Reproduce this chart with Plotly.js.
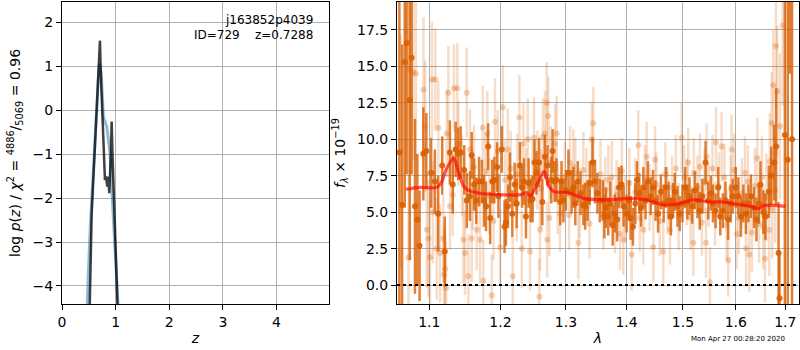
<!DOCTYPE html>
<html><head><meta charset="utf-8">
<script src="https://cdn.plot.ly/plotly-3.0.1.min.js"></script>
<style>html,body{margin:0;padding:0;background:#fff}#chart{width:800px;height:350px}</style>
</head><body><div id="chart"></div>
<script>
// ---- left panel: log p(z)
const pzZ   = [0.515, 0.553, 0.646, 0.708, 0.722, 0.801, 0.820, 0.845, 0.863, 0.882, 0.913, 0.926, 0.940, 0.969, 1.019, 1.031, 1.040];
const pzLog = [-4.6, -2.36, -0.01, 1.58, 0.9, -1.59, -1.51, -1.74, -1.51, -1.89, -0.94, -0.26, -0.94, -2.04, -3.98, -4.0, -4.6];
const priorZ   = [0.470, 0.478, 0.490, 0.530, 0.586, 0.636, 0.680, 0.700, 0.730, 0.772, 0.835, 0.897, 0.960, 1.020, 1.045];
const priorLog = [-4.45, -3.8, -3.75, -2.6, -1.21, -0.23, 0.76, 1.06, 0.85, -0.15, -0.38, -0.98, -2.5, -3.86, -4.45];
const leftXTicks = [0, 1, 2, 3, 4];
const leftYTicks = [-4, -3, -2, -1, 0, 1, 2];

// ---- right panel: spectrum (dark = primary, light = other)
const darkLam = [
 1.0605,1.0640,1.0675,1.0700,1.0740,1.0765,1.0809,1.0840,1.0870,1.0920,
 1.0960,1.1025,1.1075,1.1120,1.1175,1.1210,1.1280,1.1320,1.1360,1.1395,
 1.1430,1.1480,1.1515,1.1560,1.1585,1.1620,1.1650,1.1690,1.1730,1.1760,
 1.1790,1.1820,1.1850,1.1880,1.1910,1.1950,1.1970,1.2020,1.2060,1.2080,
 1.2110,1.2140,1.2175,1.2210,1.2240,1.2290,1.2320,1.2350,1.2380,1.2420,
 1.2450,1.2480,1.2510,1.2540,1.2580,1.2630,1.2670,1.2710,1.2770,1.2790,
 1.2820,1.2850,1.2910,1.2930,1.2960,1.3000,1.3040,1.3090,1.3120,1.3150,
 1.3190,1.3235,1.3280,1.3310,1.3350,1.3385,1.3430,1.3470,1.3510,1.3550,
 1.3600,1.3625,1.3650,1.3690,1.3725,1.3765,1.3800,1.3840,1.3870,1.3915,
 1.3950,1.4000,1.4040,1.4070,1.4110,1.4150,1.4180,1.4220,1.4250,1.4290,
 1.4330,1.4370,1.4420,1.4460,1.4505,1.4550,1.4600,1.4650,1.4690,1.4740,
 1.4780,1.4820,1.4850,1.4900,1.4940,1.4990,1.5040,1.5080,1.5120,1.5170,
 1.5220,1.5270,1.5310,1.5360,1.5420,1.5470,1.5520,1.5560,1.5610,1.5660,
 1.5700,1.5750,1.5800,1.5850,1.5900,1.5940,1.6000,1.6050,1.6100,1.6150,
 1.6200,1.6250,1.6300,1.6360,1.6410,1.6460,1.6490,1.6550,1.6590,1.6660,
 1.6710,1.6770,1.6810,1.6860,1.6880,1.6990,1.7050,1.7096,1.7140];
const darkFlux = [
 9.1,5.5,15.3,16.6,12.7,15.6,5.4,4.5,2.7,9.0,
 9.2,7.7,7.1,4.9,8.2,2.3,9.1,6.9,9.3,9.0,
 9.1,7.9,5.8,6.1,8.9,6.9,5.8,7.1,7.1,5.8,
 5.4,9.5,4.6,7.1,7.2,8.1,6.1,9.3,4.0,4.3,
 5.4,7.4,4.9,6.9,5.6,8.2,6.7,7.1,4.7,7.0,
 5.8,5.9,8.4,7.7,8.4,5.7,8.8,8.2,7.2,9.2,
 7.1,7.2,5.7,7.1,5.8,6.5,7.7,6.4,6.7,5.6,
 7.1,6.3,5.5,5.4,5.8,7.0,8.4,7.1,6.3,5.8,
 5.8,4.7,5.3,4.7,5.6,4.1,4.9,4.5,6.7,6.9,
 5.4,4.9,5.8,4.6,4.0,5.6,7.2,6.3,5.3,6.7,
 5.8,7.1,6.1,6.7,5.8,4.9,6.4,5.6,6.7,5.8,
 4.7,5.8,6.4,5.4,4.9,5.6,6.7,5.7,6.1,5.4,
 6.5,5.8,5.1,6.1,8.4,5.8,6.3,5.6,5.1,6.7,
 4.7,5.1,5.8,4.5,5.6,6.1,6.7,6.1,4.7,5.6,
 4.9,5.6,6.1,5.3,4.5,5.6,6.9,5.0,4.7,6.4,
 7.5,8.4,9.5,2.2,-0.9,10.3,8.6,22.0,10.0];
const darkErr = [
 12,11,10,9,11,8,6,4.5,3.8,3.2,
 2.6,2.4,2.2,2.6,2.0,2.4,2.2,2.0,1.9,1.8,
 1.8,1.7,1.9,1.7,1.6,1.8,1.6,1.7,1.5,1.8,
 1.7,1.6,1.8,1.5,1.6,1.7,1.5,1.6,1.8,1.6,
 1.5,1.7,1.6,1.5,1.7,1.6,1.4,1.6,1.5,1.7,
 1.5,1.6,1.6,1.5,1.7,1.6,1.5,1.4,1.6,1.5,
 1.4,1.5,1.6,1.4,1.5,1.4,1.6,1.5,1.4,1.5,
 1.4,1.5,1.4,1.6,1.4,1.5,1.7,1.5,1.4,1.5,
 1.4,1.5,1.4,1.3,1.5,1.4,1.3,1.5,1.4,1.3,
 1.4,1.3,1.4,1.5,1.3,1.4,1.3,1.4,1.3,1.4,
 1.3,1.4,1.3,1.2,1.4,1.3,1.2,1.3,1.4,1.3,
 1.3,1.2,1.3,1.4,1.2,1.3,1.4,1.2,1.3,1.2,
 1.3,1.2,1.3,1.2,1.5,1.3,1.2,1.3,1.2,1.4,
 1.3,1.2,1.3,1.4,1.3,1.2,1.4,1.3,1.4,1.3,
 1.4,1.3,1.5,1.4,1.5,1.4,1.6,1.5,1.6,1.8,
 2.0,2.6,4.0,3.5,3.2,12,14,7.5,12];

const lightLam = [
 1.0622,1.0725,1.0734,1.0786,1.0821,1.0922,1.0944,1.0966,1.0987,1.1009,
 1.1036,1.1050,1.1081,1.1100,1.1122,1.1145,1.1190,1.1200,1.1214,1.1227,
 1.1237,1.1259,1.1282,1.1320,1.1337,1.1383,1.1397,1.1450,1.1467,1.1491,
 1.1515,1.1538,1.1561,1.1585,1.1600,1.1618,1.1656,1.1704,1.1743,1.1751,
 1.1780,1.1809,1.1838,1.1872,1.1900,1.1921,1.1960,1.1994,1.2034,1.2068,
 1.2108,1.2150,1.2182,1.2242,1.2250,1.2281,1.2317,1.2341,1.2380,1.2407,
 1.2442,1.2480,1.2503,1.2553,1.2584,1.2595,1.2610,1.2637,1.2672,1.2698,
 1.2705,1.2723,1.2739,1.2760,1.2828,1.2854,1.2870,1.2906,1.2980,1.3050,
 1.3065,1.3118,1.3150,1.3199,1.3220,1.3280,1.3330,1.3380,1.3416,1.3443,
 1.3560,1.3609,1.3640,1.3692,1.3750,1.3804,1.3830,1.3888,1.3920,1.3944,
 1.3980,1.4050,1.4088,1.4150,1.4202,1.4230,1.4290,1.4320,1.4349,1.4400,
 1.4466,1.4496,1.4520,1.4580,1.4643,1.4680,1.4720,1.4763,1.4800,1.4870,
 1.4920,1.4976,1.5020,1.5070,1.5098,1.5140,1.5191,1.5200,1.5270,1.5315,
 1.5350,1.5400,1.5428,1.5441,1.5480,1.5503,1.5550,1.5600,1.5617,1.5670,
 1.5726,1.5780,1.5820,1.5854,1.5900,1.5920,1.5970,1.6018,1.6060,1.6120,
 1.6182,1.6202,1.6240,1.6266,1.6320,1.6380,1.6427,1.6460,1.6520,1.6547,
 1.6582,1.6610,1.6669,1.6680,1.6718,1.6730,1.6751,1.6790,1.6806,1.6832,
 1.6889,1.6944];
const lightFlux = [
 9.15,1.9,14.8,14.6,14.5,13.4,10.9,3.8,3.2,1.9,
 14.1,5.0,14.1,2.5,10.8,2.2,3.2,0.7,1.1,-0.2,
 10.4,13.2,5.4,6.2,13.5,13.5,9.7,7.5,3.1,2.2,
 13.2,0.6,9.3,3.2,6.5,8.1,3.8,3.1,10.8,0.3,
 7.8,10.4,6.1,-0.7,4.4,11.2,9.2,2.6,12.2,7.2,
 9.3,8.0,0.6,5.6,7.6,11.5,2.5,9.7,6.8,10.0,
 2.3,7.3,10.1,7.9,-0.8,3.8,6.6,10.2,10.4,12.5,
 3.1,11.6,4.6,8.4,9.7,10.4,6.0,4.9,7.4,4.8,
 8.4,8.1,7.7,2.9,5.6,7.9,6.9,4.2,10.0,11.1,
 7.6,4.9,6.5,7.2,7.4,4.5,6.2,3.5,7.8,3.1,
 5.2,7.0,2.1,6.4,9.6,4.6,3.8,7.3,8.8,6.0,
 2.6,8.6,6.9,4.4,2.3,7.6,5.8,3.8,6.7,8.0,
 4.7,10.1,7.4,6.4,8.4,4.6,2.9,7.7,6.7,8.1,
 4.3,7.1,2.9,8.8,6.2,0.2,8.0,4.9,9.8,6.8,
 9.5,7.4,4.1,1.7,6.6,9.3,7.9,3.5,4.6,6.3,
 7.7,2.5,7.1,2.1,3.6,6.8,8.7,4.2,7.4,4.0,
 1.8,6.0,3.8,8.5,11.1,5.2,13.7,6.5,16.4,13.3,
 10.9,17.8];
const lightErr = [
 8,6,7,6,6,5,4.5,4,4,4,
 4,3.5,3.5,3.5,3.2,3.4,3,3.2,3,3.2,
 3,3.2,3,2.8,3,3.1,2.9,2.8,3,2.9,
 3.1,2.9,2.8,3,2.7,2.9,2.8,3,2.9,2.8,
 2.7,2.9,2.6,2.8,2.7,3,2.8,2.6,2.9,2.7,
 2.8,2.6,2.7,2.6,2.8,2.9,2.7,2.8,2.6,2.8,
 2.7,2.6,2.8,2.7,2.6,2.8,2.7,2.6,2.9,2.8,
 2.6,2.7,2.6,2.5,2.7,2.6,2.5,2.6,2.5,2.4,
 2.5,2.6,2.4,2.5,2.4,2.6,2.5,2.4,2.6,2.5,
 2.4,2.5,2.3,2.4,2.5,2.3,2.4,2.5,2.3,2.4,
 2.3,2.4,2.5,2.3,2.4,2.3,2.4,2.3,2.4,2.3,
 2.4,2.3,2.2,2.4,2.3,2.2,2.3,2.4,2.2,2.3,
 2.3,2.4,2.2,2.3,2.4,2.2,2.3,2.4,2.2,2.3,
 2.3,2.2,2.4,2.3,2.2,2.4,2.3,2.2,2.4,2.3,
 2.4,2.3,2.4,2.5,2.3,2.4,2.5,2.4,2.5,2.4,
 2.5,2.6,2.5,2.6,2.7,2.6,2.8,2.7,2.8,2.9,
 3,3,3.2,3.3,3.5,3.4,3.8,3.6,4.2,4.5,
 5,5.5];

const modelLam  = [1.0692,1.0875,1.1100,1.1170,1.1226,1.1335,1.1390,1.1475,1.1540,1.1700,1.1973,1.2307,1.2390,1.2443,1.2570,1.2660,1.2733,1.2815,1.3025,1.3285,1.3655,1.4057,1.4337,1.4655,1.4945,1.5190,1.5500,1.5750,1.6000,1.6280,1.6480,1.6550,1.7000];
const modelFlux = [6.57,6.7,6.7,7.1,7.9,8.7,7.9,6.75,6.5,6.3,6.2,6.2,6.35,6.1,7.1,7.8,6.75,6.4,6.35,5.95,5.85,5.95,5.85,5.5,5.6,5.85,5.7,5.7,5.55,5.4,5.25,5.45,5.4];

const rightXTicks = [1.1, 1.2, 1.3, 1.4, 1.5, 1.6, 1.7];
const rightYTicks = [0, 2.5, 5, 7.5, 10, 12.5, 15, 17.5];

const FONT = 'DejaVu Sans, sans-serif';
const ORANGE = 'rgb(217,95,2)';

const traces = [
  {x: priorZ, y: priorLog, xaxis:'x', yaxis:'y', mode:'lines', hoverinfo:'skip',
   line:{color:'rgba(31,119,180,0.5)', width:3}},
  {x: pzZ, y: pzLog, xaxis:'x', yaxis:'y', mode:'lines', hoverinfo:'skip',
   line:{color:'rgba(0,0,0,0.75)', width:2.5}},
  {x: lightLam, y: lightFlux, xaxis:'x2', yaxis:'y2', mode:'markers',
   marker:{color:'rgba(217,95,2,0.28)', size:6},
   error_y:{type:'data', array: lightErr, visible:true, color:'rgba(217,95,2,0.22)', thickness:2.5, width:0}},
  {x: darkLam, y: darkFlux, xaxis:'x2', yaxis:'y2', mode:'markers',
   marker:{color:'rgba(217,95,2,0.9)', size:6},
   error_y:{type:'data', array: darkErr, visible:true, color:'rgba(217,95,2,0.8)', thickness:2.5, width:0}},
  {x: modelLam, y: modelFlux, xaxis:'x2', yaxis:'y2', mode:'lines',
   line:{color:'rgba(255,0,0,0.65)', width:3.2, shape:'spline', smoothing:0.8}}
];

const axCommon = {
  showgrid:true, gridcolor:'#b0b0b0', gridwidth:1, zeroline:false,
  showline:true, mirror:true, linecolor:'#000', linewidth:1,
  ticks:'outside', ticklen:5, tickwidth:1, tickcolor:'#000',
  tickfont:{family:FONT, size:14, color:'#000'}, fixedrange:true
};

const layout = {
  width:800, height:350, margin:{l:0, r:0, t:2, b:46},
  paper_bgcolor:'#fff', plot_bgcolor:'#fff', showlegend:false,
  font:{family:FONT, color:'#000'},
  xaxis: Object.assign({}, axCommon, {domain:[0.0775, 0.41125], anchor:'y', range:[0, 4.98],
    tickvals: leftXTicks, ticktext: leftXTicks.map(String),
    title:{text:'<i>z</i>', font:{family:FONT, size:14}, standoff:4}}),
  yaxis: Object.assign({}, axCommon, {domain:[0,1], anchor:'x', range:[-4.41, 2.46],
    tickvals: leftYTicks,
    title:{text:'log <i>p</i>(<i>z</i>) / <i>χ</i><sup>2</sup> = <sup>4886</sup>/<sub>5069</sub> = 0.96', font:{family:FONT, size:14}, standoff:8}}),
  xaxis2: Object.assign({}, axCommon, {domain:[0.49625, 0.99875], anchor:'y2', type:'log', range:[0.02424, 0.2377],
    tickvals: rightXTicks, ticktext: rightXTicks.map(v => v.toFixed(1)),
    title:{text:'<i>λ</i>', font:{family:FONT, size:14}, standoff:4}}),
  yaxis2: Object.assign({}, axCommon, {domain:[0,1], anchor:'x2', range:[-1.30, 19.42],
    tickvals: rightYTicks, ticktext: rightYTicks.map(v => v.toFixed(1)),
    title:{text:'<i>f</i><sub><i>λ</i></sub> × 10<sup>−19</sup>', font:{family:FONT, size:14}, standoff:8}}),
  shapes:[
    {type:'line', xref:'x2 domain', yref:'y2', x0:0, x1:1, y0:0, y1:0, layer:'above',
     line:{color:'#000', width:2, dash:'dot'}}
  ],
  annotations:[
    {text:'j163852p4039', xref:'paper', yref:'paper', x:0.394, y:0.94, xanchor:'right', yanchor:'middle',
     showarrow:false, font:{family:FONT, size:12, color:'#000'}},
    {text:'ID=729&nbsp;&nbsp;&nbsp;&nbsp;z=0.7288', xref:'paper', yref:'paper', x:0.394, y:0.891, xanchor:'right', yanchor:'middle',
     showarrow:false, font:{family:FONT, size:12, color:'#000'}},
    {text:'Mon Apr 27 00:28:20 2020', xref:'paper', yref:'paper', x:0.984, y:-0.116, xanchor:'right', yanchor:'middle',
     showarrow:false, font:{family:FONT, size:7, color:'#000'}}
  ]
};

Plotly.newPlot('chart', traces, layout, {displayModeBar:false, staticPlot:true});
</script></body></html>
